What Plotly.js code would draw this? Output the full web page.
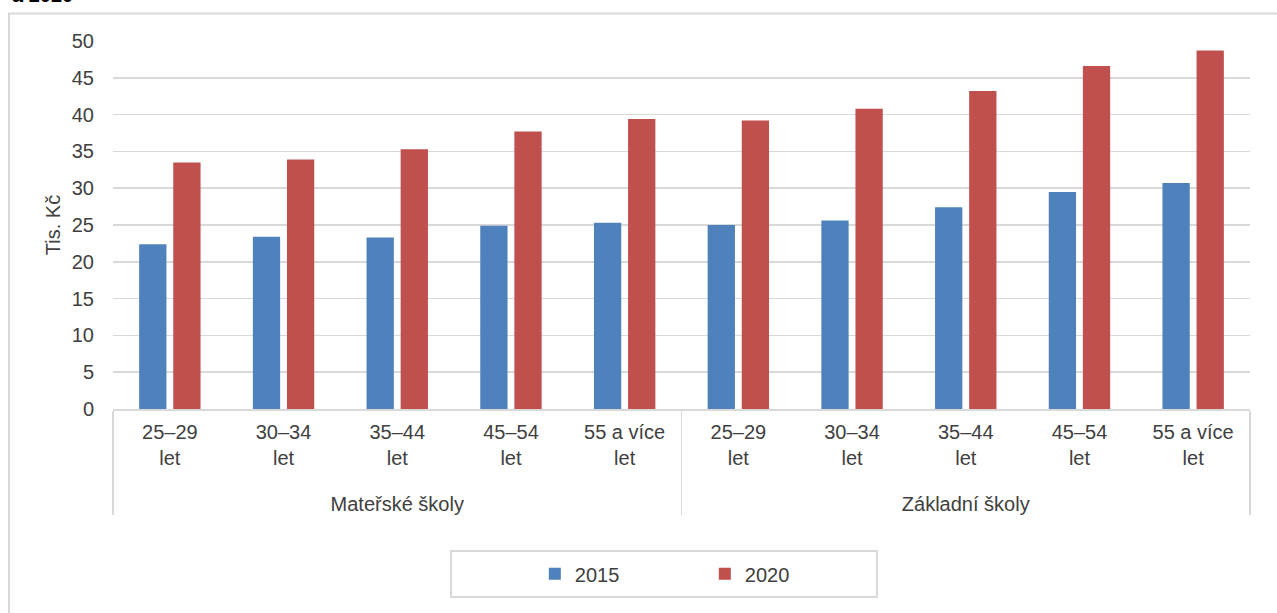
<!DOCTYPE html>
<html>
<head>
<meta charset="utf-8">
<script src="https://cdn.plot.ly/plotly-3.0.1.min.js"></script>
<style>
  html, body { margin: 0; padding: 0; background: #ffffff; overflow: hidden; }
  #chart { width: 1277px; height: 613px; }
</style>
</head>
<body>
<div id="chart"></div>
<script>
// ---- data ----
const groups = ['Mateřské školy', 'Mateřské školy', 'Mateřské školy', 'Mateřské školy', 'Mateřské školy',
                'Základní školy', 'Základní školy', 'Základní školy', 'Základní školy', 'Základní školy'];
const ageLabels = ['25–29<br>let', '30–34<br>let', '35–44<br>let', '45–54<br>let', '55 a více<br>let',
                   '25–29<br>let', '30–34<br>let', '35–44<br>let', '45–54<br>let', '55 a více<br>let'];
const series2015 = [22.4, 23.4, 23.3, 24.9, 25.3, 25.0, 25.6, 27.4, 29.5, 30.7];
const series2020 = [33.5, 33.9, 35.3, 37.7, 39.4, 39.2, 40.8, 43.2, 46.6, 48.7];
const seriesNames = ['2015', '2020'];
const yTitle = 'Tis. Kč';
const topText = 'a 2020';

const font = 'Liberation Sans, Arial, sans-serif';
const textColor = '#404040';
const grid = '#D9D9D9';

// extra blank line below each age label gives the group row its spacing
const ageTicks = ageLabels.map(s => s + '<br>\u00a0');

const traces = [
  { type: 'bar', name: seriesNames[0], x: [groups, ageTicks], y: series2015,
    marker: { color: '#4F81BD', line: { width: 0 } }, hoverinfo: 'y' },
  { type: 'bar', name: seriesNames[1], x: [groups, ageTicks], y: series2020,
    marker: { color: '#C0504D', line: { width: 0 } }, hoverinfo: 'y' }
];

const layout = {
  width: 1277, height: 613,
  margin: { l: 113, r: 27, t: 41, b: 204, pad: 0 },
  paper_bgcolor: '#ffffff', plot_bgcolor: '#ffffff',
  font: { family: font, size: 20, color: textColor },
  barmode: 'group', bargap: 0.40, bargroupgap: 0.2,
  showlegend: true,
  legend: {
    orientation: 'h', x: 0.371, xanchor: 'left', y: -0.448, yanchor: 'middle',
    entrywidth: 125, entrywidthmode: 'pixels',
    bgcolor: 'rgba(0,0,0,0)', borderwidth: 0,
    font: { family: font, size: 20, color: textColor }
  },
  xaxis: {
    type: 'multicategory', tickangle: 0,
    showline: true, linecolor: grid, linewidth: 1.5,
    showgrid: false, ticks: '',
    ticklabelstandoff: 4,
    showdividers: true, dividercolor: grid, dividerwidth: 1.5,
    tickfont: { family: font, size: 20, color: textColor }
  },
  yaxis: {
    range: [0, 50], dtick: 5, tick0: 0,
    showgrid: true, gridcolor: grid, gridwidth: 1.5,
    zeroline: false, showline: false, ticks: '',
    ticklabelstandoff: 18,
    tickfont: { family: font, size: 20, color: textColor },
    title: { text: yTitle, standoff: 5, font: { family: font, size: 20, color: textColor } }
  },
  shapes: [
    { type: 'rect', xref: 'paper', yref: 'paper', layer: 'below',
      x0: -0.0915, x1: 1.2, y0: -1.0, y1: 1.0747,
      line: { color: grid, width: 2 }, fillcolor: 'rgba(0,0,0,0)' },
    { type: 'rect', xref: 'paper', yref: 'paper', layer: 'below',
      x0: 0.2973, x1: 0.6719, y0: -0.5109, y1: -0.3859,
      line: { color: grid, width: 2 }, fillcolor: 'rgba(0,0,0,0)' }
  ],
  annotations: [
    { text: '<b>' + topText + '</b>', xref: 'paper', yref: 'paper',
      x: -0.0906, xanchor: 'left', y: 1.09, yanchor: 'bottom',
      showarrow: false, font: { family: font, size: 20, color: '#000000' } }
  ]
};

Plotly.newPlot('chart', traces, layout, { displayModeBar: false, staticPlot: true });
</script>
</body>
</html>
